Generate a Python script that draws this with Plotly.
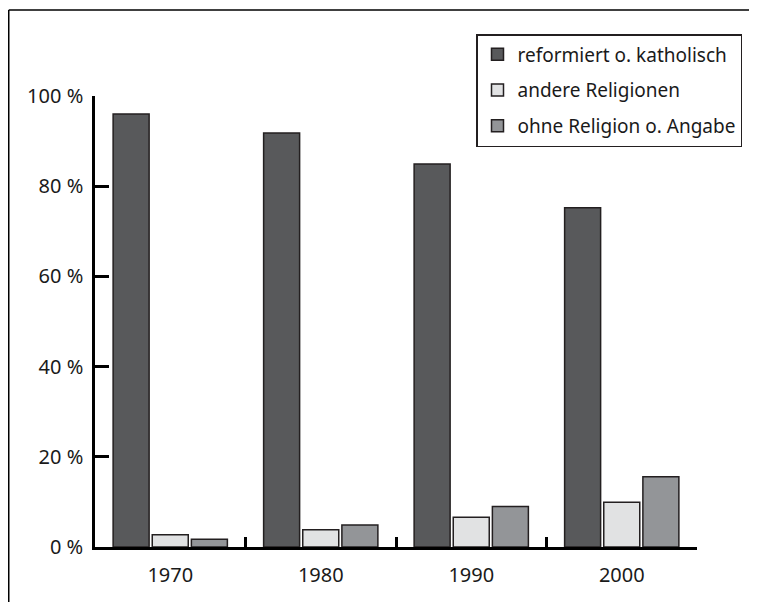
import plotly.graph_objects as go

years = ["1970", "1980", "1990", "2000"]
reformiert_katholisch = [96.0, 91.8, 84.9, 75.2]
andere_religionen = [2.7, 3.8, 6.6, 9.9]
ohne_religion = [1.7, 4.9, 9.0, 15.6]
y_ticks = [0, 20, 40, 60, 80, 100]
y_tick_labels = ["0 %", "20 %", "40 %", "60 %", "80 %", "100 %"]

series = [
    ("reformiert o. katholisch", reformiert_katholisch, "#58595b"),
    ("andere Religionen", andere_religionen, "#e1e2e3"),
    ("ohne Religion o. Angabe", ohne_religion, "#939598"),
]

fig = go.Figure()
for i, (name, vals, col) in enumerate(series):
    fig.add_trace(go.Bar(
        x=years, y=vals, name=name, legendgroup=f"g{i}",
        marker=dict(color=col, line=dict(color="#231f20", width=1.5)),
    ))

# page body has an 8px margin; figure occupies page x 8..757, y 8..602
W, H = 749, 594
L, R, T, B = 87, 60, 88, 55
PW, PH = W - L - R, H - T - B

font_family = "Noto Sans, Open Sans, sans-serif"
fig.update_layout(
    width=W, height=H,
    margin=dict(l=L, r=R, t=T, b=B),
    paper_bgcolor="white", plot_bgcolor="white",
    barmode="group", bargap=0.22, bargroupgap=0.08,
    font=dict(family=font_family, size=20, color="#1a1a1a"),
    showlegend=True,
    legend=dict(
        x=(468 - L) / PW, y=1 + (T - 26) / PH, xanchor="left", yanchor="top",
        bordercolor="#231f20", borderwidth=1.5, bgcolor="white",
        font=dict(size=19, family=font_family, color="#1a1a1a"),
        traceorder="grouped", tracegroupgap=8,
        itemwidth=30, entrywidth=262, entrywidthmode="pixels",
    ),
    xaxis=dict(
        showline=True, linecolor="black", linewidth=2.5,
        ticks="inside", tickson="boundaries", ticklen=10, tickwidth=2.5,
        tickcolor="black", showgrid=False, ticklabelstandoff=8,
        tickfont=dict(size=20),
    ),
    yaxis=dict(
        range=[0, 100], showline=True, linecolor="black", linewidth=2.5,
        ticks="inside", ticklen=14, tickwidth=2.5, tickcolor="black",
        tickvals=y_ticks, ticktext=y_tick_labels, showgrid=False,
        zeroline=False, ticklabelstandoff=5, tickfont=dict(size=20),
    ),
)

# outer frame (top and left lines)
fx0 = (0.75 - L) / PW
fy_top = (T + PH - 2) / PH
fig.add_shape(type="line", xref="paper", yref="paper",
              x0=fx0, x1=(W - L) / PW, y0=fy_top, y1=fy_top,
              line=dict(color="black", width=1.5))
fig.add_shape(type="line", xref="paper", yref="paper",
              x0=fx0, x1=fx0, y0=fy_top, y1=-(B + 5) / PH,
              line=dict(color="black", width=1.5))

fig.write_html("out.html")
